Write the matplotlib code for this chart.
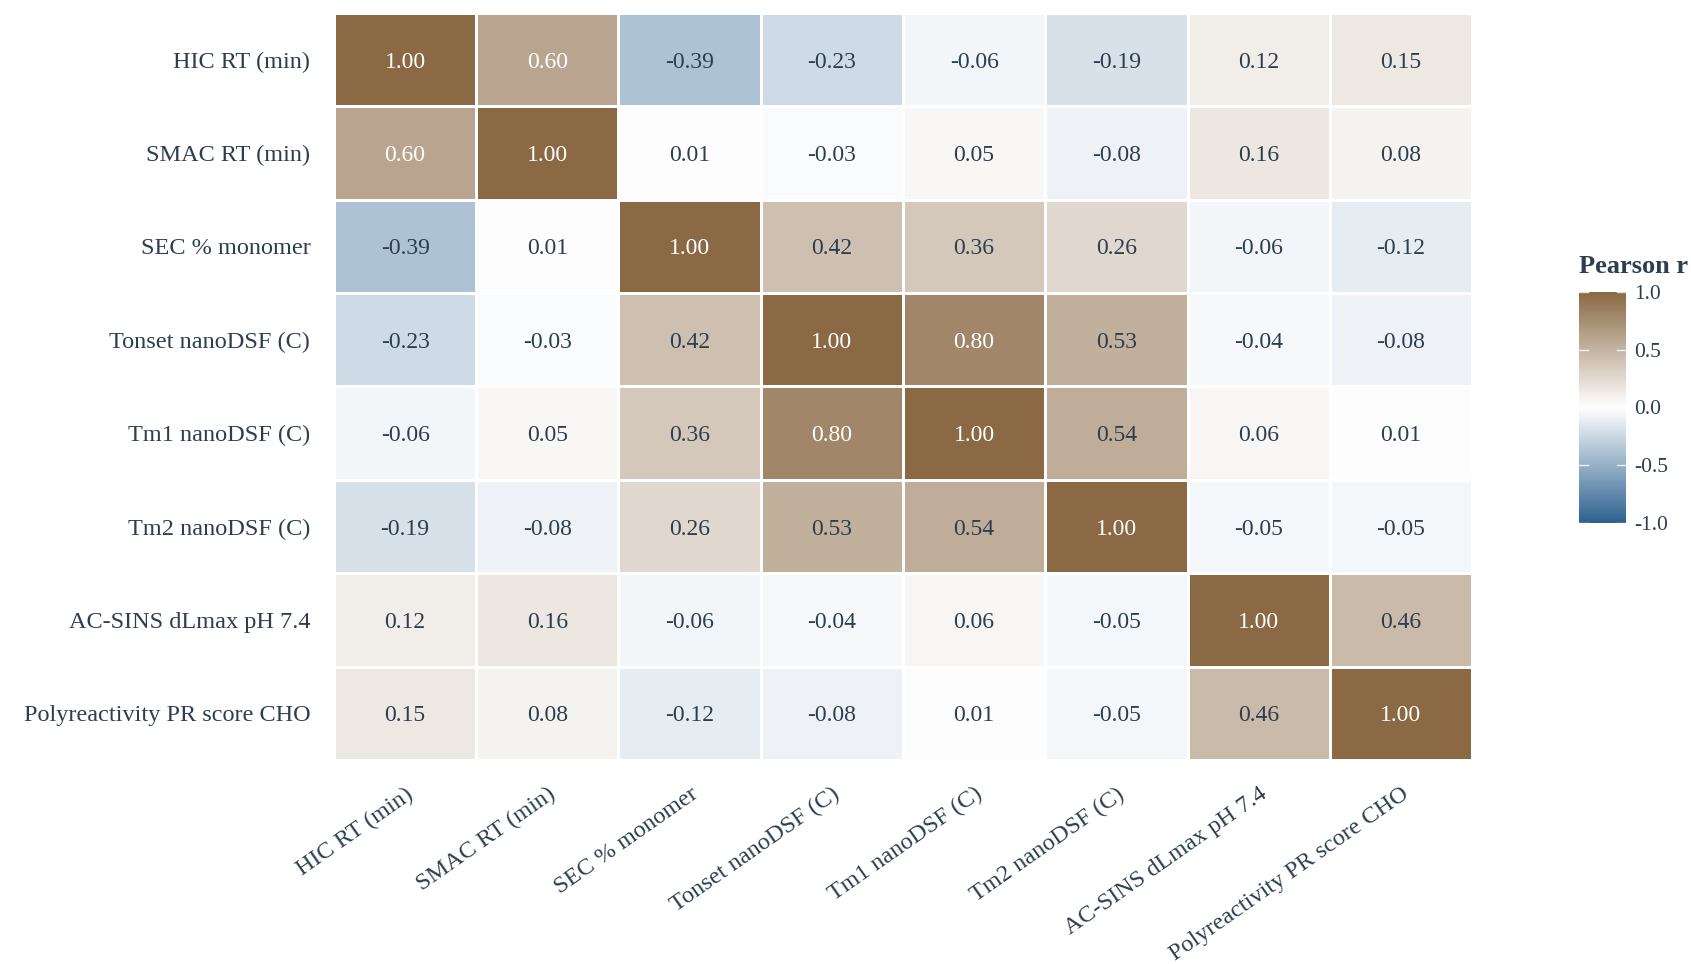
import numpy as np
import matplotlib
matplotlib.use("Agg")
import matplotlib.pyplot as plt
from matplotlib.colors import LinearSegmentedColormap

labels = ["HIC RT (min)", "SMAC RT (min)", "SEC % monomer", "Tonset nanoDSF (C)",
          "Tm1 nanoDSF (C)", "Tm2 nanoDSF (C)", "AC-SINS dLmax pH 7.4",
          "Polyreactivity PR score CHO"]

row_hic = [1.00, 0.60, -0.39, -0.23, -0.06, -0.19, 0.12, 0.15]
row_smac = [0.60, 1.00, 0.01, -0.03, 0.05, -0.08, 0.16, 0.08]
row_sec = [-0.39, 0.01, 1.00, 0.42, 0.36, 0.26, -0.06, -0.12]
row_tonset = [-0.23, -0.03, 0.42, 1.00, 0.80, 0.53, -0.04, -0.08]
row_tm1 = [-0.06, 0.05, 0.36, 0.80, 1.00, 0.54, 0.06, 0.01]
row_tm2 = [-0.19, -0.08, 0.26, 0.53, 0.54, 1.00, -0.05, -0.05]
row_acsins = [0.12, 0.16, -0.06, -0.04, 0.06, -0.05, 1.00, 0.46]
row_pr = [0.15, 0.08, -0.12, -0.08, 0.01, -0.05, 0.46, 1.00]

cbar_ticks = [-1.0, -0.5, 0.0, 0.5, 1.0]

M = np.array([row_hic, row_smac, row_sec, row_tonset, row_tm1, row_tm2, row_acsins, row_pr])

plt.rcParams['font.family'] = ['Liberation Serif', 'DejaVu Serif']
txt = "#2c3e50"

cmap = LinearSegmentedColormap.from_list("bb", [(0.0, "#2d6190"), (0.5, "#ffffff"), (1.0, "#8a6944")])

fig = plt.figure(figsize=(16.91, 9.64), dpi=100)
ax = fig.add_axes([0.1975, 0.2116, 0.673, 0.775])
n = len(labels)
im = ax.pcolormesh(np.arange(n + 1) - 0.5, np.arange(n + 1) - 0.5, M, cmap=cmap, vmin=-1, vmax=1,
                   edgecolors="white", linewidth=2.0)
ax.set_xlim(-0.5, n - 0.5)
ax.set_ylim(n - 0.5, -0.5)
for i in range(n):
    for j in range(n):
        v = M[i, j]
        c = "white" if abs(v) >= 0.6 else txt
        ax.text(j, i, f"{v:.2f}", ha="center", va="center_baseline", color=c, fontsize=17)
ax.set_xticks(range(n))
ax.set_yticks(range(n))
ax.set_xticklabels(labels, rotation=35, ha="right", rotation_mode="anchor", fontsize=17.5, color=txt)
ax.set_yticklabels(labels, fontsize=17.5, color=txt)
ax.tick_params(length=0, pad=17, axis="x")
ax.tick_params(length=0, pad=17, axis="y")
for s in ax.spines.values():
    s.set_visible(False)

cax = fig.add_axes([0.9338, 0.4575, 0.0278, 0.2396])
cb = fig.colorbar(im, cax=cax, ticks=cbar_ticks)
cb.outline.set_visible(False)
cb.ax.set_yticklabels([f"{t:.1f}" for t in cbar_ticks], fontsize=15.5, color=txt)
cb.ax.tick_params(length=0, pad=6)
for t in cbar_ticks:
    cax.plot([0, 0.2], [t, t], color="white", lw=1, alpha=0.8)
    cax.plot([0.8, 1.0], [t, t], color="white", lw=1, alpha=0.8)
fig.text(0.9338, 0.724, "Pearson r", fontsize=19, fontweight="bold", color=txt, ha="left", va="center")

fig.savefig("out.png", dpi=100, facecolor="white")
